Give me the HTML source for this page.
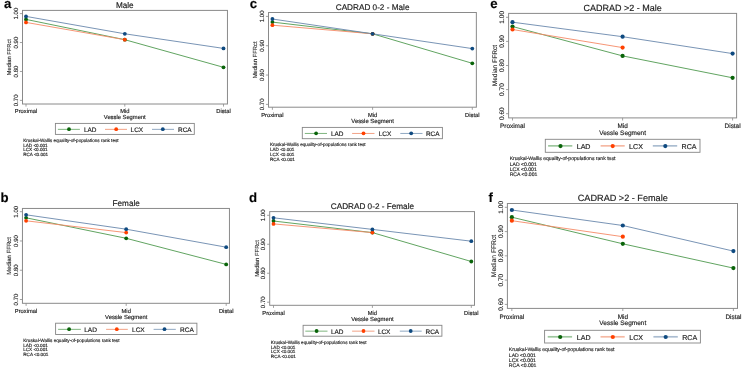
<!DOCTYPE html>
<html><head><meta charset="utf-8"><title>FFRct by vessel segment</title>
<style>
html,body{margin:0;padding:0;background:#fff;}
body{width:742px;height:368px;overflow:hidden;}
svg{display:block;font-family:"Liberation Sans",sans-serif;will-change:transform;}
text{stroke:#222;stroke-width:0.16px;text-rendering:geometricPrecision;}
text.r{stroke-width:0.1px;}
</style></head><body>
<svg width="742" height="368" viewBox="0 0 742 368">
<rect width="742" height="368" fill="#fff"/>
<text x="4" y="7.7" font-size="13.2" font-weight="bold" fill="#000">a</text>
<text x="124.8" y="7.5" font-size="8.2" text-anchor="middle" fill="#222">Male</text>
<rect x="22.5" y="10.4" width="204.95" height="93.6" fill="none" stroke="#8a8a8a" stroke-width="1"/>
<line x1="19.9" y1="13.6" x2="22.5" y2="13.6" stroke="#8a8a8a" stroke-width="0.8"/>
<text transform="translate(18 13.6) rotate(-90)" font-size="6.1" text-anchor="middle" fill="#222" class="r">1.00</text>
<line x1="19.9" y1="42.53" x2="22.5" y2="42.53" stroke="#8a8a8a" stroke-width="0.8"/>
<text transform="translate(18 42.53) rotate(-90)" font-size="6.1" text-anchor="middle" fill="#222" class="r">0.90</text>
<line x1="19.9" y1="71.46" x2="22.5" y2="71.46" stroke="#8a8a8a" stroke-width="0.8"/>
<text transform="translate(18 71.46) rotate(-90)" font-size="6.1" text-anchor="middle" fill="#222" class="r">0.80</text>
<line x1="19.9" y1="100.39" x2="22.5" y2="100.39" stroke="#8a8a8a" stroke-width="0.8"/>
<text transform="translate(18 100.39) rotate(-90)" font-size="6.1" text-anchor="middle" fill="#222" class="r">0.70</text>
<text transform="translate(10.9 57.2) rotate(-90)" font-size="5.75" text-anchor="middle" fill="#222" class="r">Median FFRct</text>
<line x1="26" y1="104" x2="26" y2="106.6" stroke="#8a8a8a" stroke-width="0.8"/>
<text x="26" y="113.2" font-size="5.75" text-anchor="middle" fill="#222">Proximal</text>
<line x1="124.8" y1="104" x2="124.8" y2="106.6" stroke="#8a8a8a" stroke-width="0.8"/>
<text x="124.8" y="113.2" font-size="5.75" text-anchor="middle" fill="#222">Mid</text>
<line x1="223.5" y1="104" x2="223.5" y2="106.6" stroke="#8a8a8a" stroke-width="0.8"/>
<text x="223.5" y="113.2" font-size="5.75" text-anchor="middle" fill="#222">Distal</text>
<text x="124.8" y="119.3" font-size="5.8" text-anchor="middle" fill="#222">Vessle Segment</text>
<polyline points="26,19.4 124.8,39.7 223.5,67.3" fill="none" stroke="#4f9a4f" stroke-width="0.9"/>
<polyline points="26,22.4 124.8,39.7" fill="none" stroke="#f58a66" stroke-width="0.9"/>
<polyline points="26,16.4 124.8,33.8 223.5,48.4" fill="none" stroke="#6a88ad" stroke-width="0.9"/>
<circle cx="26" cy="19.4" r="1.9" fill="#0a640a"/>
<circle cx="124.8" cy="39.7" r="1.9" fill="#0a640a"/>
<circle cx="223.5" cy="67.3" r="1.9" fill="#0a640a"/>
<circle cx="26" cy="22.4" r="1.9" fill="#ff4000"/>
<circle cx="124.8" cy="39.7" r="1.9" fill="#ff4000"/>
<circle cx="26" cy="16.4" r="1.9" fill="#0f4a80"/>
<circle cx="124.8" cy="33.8" r="1.9" fill="#0f4a80"/>
<circle cx="223.5" cy="48.4" r="1.9" fill="#0f4a80"/>
<rect x="55.4" y="123.4" width="138.9" height="11" fill="#fff" stroke="#858585" stroke-width="0.9"/>
<line x1="57.9" y1="129.35" x2="79.9" y2="129.35" stroke="#7fb57f" stroke-width="1"/>
<circle cx="69" cy="129.2" r="1.9" fill="#0a640a"/>
<text x="84" y="131.82" font-size="6.45" fill="#222">LAD</text>
<line x1="105" y1="129.35" x2="127" y2="129.35" stroke="#f2a286" stroke-width="1"/>
<circle cx="116.2" cy="129.2" r="1.9" fill="#ff4000"/>
<text x="130.6" y="131.82" font-size="6.45" fill="#222">LCX</text>
<line x1="152" y1="129.35" x2="174" y2="129.35" stroke="#90a8c2" stroke-width="1"/>
<circle cx="162.8" cy="129.2" r="1.9" fill="#0f4a80"/>
<text x="178" y="131.82" font-size="6.45" fill="#222">RCA</text>
<text x="23.2" y="141.9" font-size="4.6" fill="#333">Kruskal-Wallis equality-of-populations rank test</text>
<text x="23.2" y="146.6" font-size="4.6" fill="#333">LAD &lt;0.001</text>
<text x="23.2" y="151.3" font-size="4.6" fill="#333">LCX &lt;0.001</text>
<text x="23.2" y="156" font-size="4.6" fill="#333">RCA &lt;0.001</text>
<text x="0.4" y="201.7" font-size="13.2" font-weight="bold" fill="#000">b</text>
<text x="126.2" y="205.6" font-size="8.2" text-anchor="middle" fill="#222">Female</text>
<rect x="22.45" y="208.45" width="207" height="94.85" fill="none" stroke="#8a8a8a" stroke-width="1"/>
<line x1="19.85" y1="211.7" x2="22.45" y2="211.7" stroke="#8a8a8a" stroke-width="0.8"/>
<text transform="translate(18 211.7) rotate(-90)" font-size="6.1" text-anchor="middle" fill="#222" class="r">1.00</text>
<line x1="19.85" y1="240.97" x2="22.45" y2="240.97" stroke="#8a8a8a" stroke-width="0.8"/>
<text transform="translate(18 240.97) rotate(-90)" font-size="6.1" text-anchor="middle" fill="#222" class="r">0.90</text>
<line x1="19.85" y1="270.24" x2="22.45" y2="270.24" stroke="#8a8a8a" stroke-width="0.8"/>
<text transform="translate(18 270.24) rotate(-90)" font-size="6.1" text-anchor="middle" fill="#222" class="r">0.80</text>
<line x1="19.85" y1="299.51" x2="22.45" y2="299.51" stroke="#8a8a8a" stroke-width="0.8"/>
<text transform="translate(18 299.51) rotate(-90)" font-size="6.1" text-anchor="middle" fill="#222" class="r">0.70</text>
<text transform="translate(10.8 255.88) rotate(-90)" font-size="6" text-anchor="middle" fill="#222" class="r">Median FFRct</text>
<line x1="26.1" y1="303.3" x2="26.1" y2="305.9" stroke="#8a8a8a" stroke-width="0.8"/>
<text x="26.1" y="312.6" font-size="5.8" text-anchor="middle" fill="#222">Proximal</text>
<line x1="126.2" y1="303.3" x2="126.2" y2="305.9" stroke="#8a8a8a" stroke-width="0.8"/>
<text x="126.2" y="312.6" font-size="5.8" text-anchor="middle" fill="#222">Mid</text>
<line x1="226.2" y1="303.3" x2="226.2" y2="305.9" stroke="#8a8a8a" stroke-width="0.8"/>
<text x="226.2" y="312.6" font-size="5.8" text-anchor="middle" fill="#222">Distal</text>
<text x="126.2" y="319" font-size="5.85" text-anchor="middle" fill="#222">Vessle Segment</text>
<polyline points="26.1,217.8 126.2,238.3 226.2,264.4" fill="none" stroke="#4f9a4f" stroke-width="0.9"/>
<polyline points="26.1,220.8 126.2,232.6" fill="none" stroke="#f58a66" stroke-width="0.9"/>
<polyline points="26.1,214.8 126.2,229.2 226.2,247.2" fill="none" stroke="#6a88ad" stroke-width="0.9"/>
<circle cx="26.1" cy="217.8" r="1.9" fill="#0a640a"/>
<circle cx="126.2" cy="238.3" r="1.9" fill="#0a640a"/>
<circle cx="226.2" cy="264.4" r="1.9" fill="#0a640a"/>
<circle cx="26.1" cy="220.8" r="1.9" fill="#ff4000"/>
<circle cx="126.2" cy="232.6" r="1.9" fill="#ff4000"/>
<circle cx="26.1" cy="214.8" r="1.9" fill="#0f4a80"/>
<circle cx="126.2" cy="229.2" r="1.9" fill="#0f4a80"/>
<circle cx="226.2" cy="247.2" r="1.9" fill="#0f4a80"/>
<rect x="55.6" y="323.2" width="141.3" height="11.3" fill="#fff" stroke="#858585" stroke-width="0.9"/>
<line x1="58.1" y1="329.35" x2="80.9" y2="329.35" stroke="#7fb57f" stroke-width="1"/>
<circle cx="69.1" cy="329.2" r="1.9" fill="#0a640a"/>
<text x="84.2" y="331.86" font-size="6.55" fill="#222">LAD</text>
<line x1="106.1" y1="329.35" x2="127.8" y2="329.35" stroke="#f2a286" stroke-width="1"/>
<circle cx="116.8" cy="329.2" r="1.9" fill="#ff4000"/>
<text x="132" y="331.86" font-size="6.55" fill="#222">LCX</text>
<line x1="153.6" y1="329.35" x2="175.8" y2="329.35" stroke="#90a8c2" stroke-width="1"/>
<circle cx="164.5" cy="329.2" r="1.9" fill="#0f4a80"/>
<text x="180" y="331.86" font-size="6.55" fill="#222">RCA</text>
<text x="23.2" y="342" font-size="4.65" fill="#333">Kruskal-Wallis equality-of-populations rank test</text>
<text x="23.2" y="346.7" font-size="4.65" fill="#333">LAD &lt;0.001</text>
<text x="23.2" y="351.4" font-size="4.65" fill="#333">LCX &lt;0.001</text>
<text x="23.2" y="356.1" font-size="4.65" fill="#333">RCA &lt;0.001</text>
<text x="249.8" y="7.5" font-size="13.2" font-weight="bold" fill="#000">c</text>
<text x="372.6" y="10.2" font-size="8.2" text-anchor="middle" fill="#222">CADRAD 0-2 - Male</text>
<rect x="268.5" y="12.5" width="207.85" height="94.7" fill="none" stroke="#8a8a8a" stroke-width="1"/>
<line x1="265.9" y1="16.4" x2="268.5" y2="16.4" stroke="#8a8a8a" stroke-width="0.8"/>
<text transform="translate(264.1 16.4) rotate(-90)" font-size="6.1" text-anchor="middle" fill="#222" class="r">1.00</text>
<line x1="265.9" y1="45.73" x2="268.5" y2="45.73" stroke="#8a8a8a" stroke-width="0.8"/>
<text transform="translate(264.1 45.73) rotate(-90)" font-size="6.1" text-anchor="middle" fill="#222" class="r">0.90</text>
<line x1="265.9" y1="75.06" x2="268.5" y2="75.06" stroke="#8a8a8a" stroke-width="0.8"/>
<text transform="translate(264.1 75.06) rotate(-90)" font-size="6.1" text-anchor="middle" fill="#222" class="r">0.80</text>
<line x1="265.9" y1="104.39" x2="268.5" y2="104.39" stroke="#8a8a8a" stroke-width="0.8"/>
<text transform="translate(264.1 104.39) rotate(-90)" font-size="6.1" text-anchor="middle" fill="#222" class="r">0.70</text>
<text transform="translate(257 59.85) rotate(-90)" font-size="5.9" text-anchor="middle" fill="#222" class="r">Median FFRct</text>
<line x1="272.4" y1="107.2" x2="272.4" y2="109.8" stroke="#8a8a8a" stroke-width="0.8"/>
<text x="272.4" y="117.3" font-size="5.75" text-anchor="middle" fill="#222">Proximal</text>
<line x1="372.6" y1="107.2" x2="372.6" y2="109.8" stroke="#8a8a8a" stroke-width="0.8"/>
<text x="372.6" y="117.3" font-size="5.75" text-anchor="middle" fill="#222">Mid</text>
<line x1="472.3" y1="107.2" x2="472.3" y2="109.8" stroke="#8a8a8a" stroke-width="0.8"/>
<text x="472.3" y="117.3" font-size="5.75" text-anchor="middle" fill="#222">Distal</text>
<text x="372.6" y="123.4" font-size="5.9" text-anchor="middle" fill="#222">Vessle Segment</text>
<polyline points="272.4,22.1 372.6,33.8 472.3,63.3" fill="none" stroke="#4f9a4f" stroke-width="0.9"/>
<polyline points="272.4,25.2 372.6,33.8" fill="none" stroke="#f58a66" stroke-width="0.9"/>
<polyline points="272.4,19 372.6,33.8 472.3,48.6" fill="none" stroke="#6a88ad" stroke-width="0.9"/>
<circle cx="272.4" cy="22.1" r="1.9" fill="#0a640a"/>
<circle cx="372.6" cy="33.8" r="1.9" fill="#0a640a"/>
<circle cx="472.3" cy="63.3" r="1.9" fill="#0a640a"/>
<circle cx="272.4" cy="25.2" r="1.9" fill="#ff4000"/>
<circle cx="372.6" cy="33.8" r="1.9" fill="#ff4000"/>
<circle cx="272.4" cy="19" r="1.9" fill="#0f4a80"/>
<circle cx="372.6" cy="33.8" r="1.9" fill="#0f4a80"/>
<circle cx="472.3" cy="48.6" r="1.9" fill="#0f4a80"/>
<rect x="302.3" y="127.4" width="140.1" height="11.3" fill="#fff" stroke="#858585" stroke-width="0.9"/>
<line x1="304.8" y1="133.45" x2="327" y2="133.45" stroke="#7fb57f" stroke-width="1"/>
<circle cx="316.1" cy="133.3" r="1.9" fill="#0a640a"/>
<text x="330.9" y="135.92" font-size="6.45" fill="#222">LAD</text>
<line x1="352.1" y1="133.45" x2="374.5" y2="133.45" stroke="#f2a286" stroke-width="1"/>
<circle cx="363.5" cy="133.3" r="1.9" fill="#ff4000"/>
<text x="378.7" y="135.92" font-size="6.45" fill="#222">LCX</text>
<line x1="400.3" y1="133.45" x2="422.5" y2="133.45" stroke="#90a8c2" stroke-width="1"/>
<circle cx="411.2" cy="133.3" r="1.9" fill="#0f4a80"/>
<text x="425.9" y="135.92" font-size="6.45" fill="#222">RCA</text>
<text x="269.9" y="146.2" font-size="4.62" fill="#333">Kruskal-Wallis equality-of-populations rank test</text>
<text x="269.9" y="151.05" font-size="4.62" fill="#333">LAD &lt;0.001</text>
<text x="269.9" y="155.9" font-size="4.62" fill="#333">LCX &lt;0.001</text>
<text x="269.9" y="160.75" font-size="4.62" fill="#333">RCA &lt;0.001</text>
<text x="248.9" y="201.7" font-size="13.2" font-weight="bold" fill="#000">d</text>
<text x="372.4" y="209" font-size="8.2" text-anchor="middle" fill="#222">CADRAD 0-2 - Female</text>
<rect x="269.7" y="211.6" width="204.8" height="93.7" fill="none" stroke="#8a8a8a" stroke-width="1"/>
<line x1="267.1" y1="215.3" x2="269.7" y2="215.3" stroke="#8a8a8a" stroke-width="0.8"/>
<text transform="translate(265.2 215.3) rotate(-90)" font-size="6.1" text-anchor="middle" fill="#222" class="r">1.00</text>
<line x1="267.1" y1="244.27" x2="269.7" y2="244.27" stroke="#8a8a8a" stroke-width="0.8"/>
<text transform="translate(265.2 244.27) rotate(-90)" font-size="6.1" text-anchor="middle" fill="#222" class="r">0.90</text>
<line x1="267.1" y1="273.24" x2="269.7" y2="273.24" stroke="#8a8a8a" stroke-width="0.8"/>
<text transform="translate(265.2 273.24) rotate(-90)" font-size="6.1" text-anchor="middle" fill="#222" class="r">0.80</text>
<line x1="267.1" y1="302.21" x2="269.7" y2="302.21" stroke="#8a8a8a" stroke-width="0.8"/>
<text transform="translate(265.2 302.21) rotate(-90)" font-size="6.1" text-anchor="middle" fill="#222" class="r">0.70</text>
<text transform="translate(258.5 258.45) rotate(-90)" font-size="5.85" text-anchor="middle" fill="#222" class="r">Median FFRct</text>
<line x1="273.5" y1="305.3" x2="273.5" y2="307.9" stroke="#8a8a8a" stroke-width="0.8"/>
<text x="273.5" y="315.1" font-size="5.75" text-anchor="middle" fill="#222">Proximal</text>
<line x1="372.4" y1="305.3" x2="372.4" y2="307.9" stroke="#8a8a8a" stroke-width="0.8"/>
<text x="372.4" y="315.1" font-size="5.75" text-anchor="middle" fill="#222">Mid</text>
<line x1="471.3" y1="305.3" x2="471.3" y2="307.9" stroke="#8a8a8a" stroke-width="0.8"/>
<text x="471.3" y="315.1" font-size="5.75" text-anchor="middle" fill="#222">Distal</text>
<text x="372.4" y="320.9" font-size="5.85" text-anchor="middle" fill="#222">Vessle Segment</text>
<polyline points="273.5,221 372.4,232.6 471.3,261.5" fill="none" stroke="#4f9a4f" stroke-width="0.9"/>
<polyline points="273.5,223.9 372.4,232.6" fill="none" stroke="#f58a66" stroke-width="0.9"/>
<polyline points="273.5,217.8 372.4,229.4 471.3,241.2" fill="none" stroke="#6a88ad" stroke-width="0.9"/>
<circle cx="273.5" cy="221" r="1.9" fill="#0a640a"/>
<circle cx="372.4" cy="232.6" r="1.9" fill="#0a640a"/>
<circle cx="471.3" cy="261.5" r="1.9" fill="#0a640a"/>
<circle cx="273.5" cy="223.9" r="1.9" fill="#ff4000"/>
<circle cx="372.4" cy="232.6" r="1.9" fill="#ff4000"/>
<circle cx="273.5" cy="217.8" r="1.9" fill="#0f4a80"/>
<circle cx="372.4" cy="229.4" r="1.9" fill="#0f4a80"/>
<circle cx="471.3" cy="241.2" r="1.9" fill="#0f4a80"/>
<rect x="303.1" y="325.3" width="138.8" height="10.9" fill="#fff" stroke="#858585" stroke-width="0.9"/>
<line x1="305.3" y1="331.15" x2="327.5" y2="331.15" stroke="#7fb57f" stroke-width="1"/>
<circle cx="316.6" cy="331" r="1.9" fill="#0a640a"/>
<text x="330.9" y="333.62" font-size="6.45" fill="#222">LAD</text>
<line x1="352.1" y1="331.15" x2="374.5" y2="331.15" stroke="#f2a286" stroke-width="1"/>
<circle cx="363.5" cy="331" r="1.9" fill="#ff4000"/>
<text x="377.9" y="333.62" font-size="6.45" fill="#222">LCX</text>
<line x1="399.8" y1="331.15" x2="421.7" y2="331.15" stroke="#90a8c2" stroke-width="1"/>
<circle cx="410.7" cy="331" r="1.9" fill="#0f4a80"/>
<text x="425.5" y="333.62" font-size="6.45" fill="#222">RCA</text>
<text x="270.8" y="343.7" font-size="4.62" fill="#333">Kruskal-Wallis equality-of-populations rank test</text>
<text x="270.8" y="348.5" font-size="4.62" fill="#333">LAD &lt;0.001</text>
<text x="270.8" y="353.3" font-size="4.62" fill="#333">LCX &lt;0.001</text>
<text x="270.8" y="358.1" font-size="4.62" fill="#333">RCA &lt;0.001</text>
<text x="490.2" y="7.9" font-size="13.2" font-weight="bold" fill="#000">e</text>
<text x="622.6" y="10.6" font-size="9" text-anchor="middle" fill="#222">CADRAD >2 - Male</text>
<rect x="508.6" y="13.4" width="228" height="104.5" fill="none" stroke="#8a8a8a" stroke-width="1"/>
<line x1="506" y1="17.3" x2="508.6" y2="17.3" stroke="#8a8a8a" stroke-width="0.8"/>
<text transform="translate(504 17.3) rotate(-90)" font-size="6.6" text-anchor="middle" fill="#222" class="r">1.00</text>
<line x1="506" y1="41.4" x2="508.6" y2="41.4" stroke="#8a8a8a" stroke-width="0.8"/>
<text transform="translate(504 41.4) rotate(-90)" font-size="6.6" text-anchor="middle" fill="#222" class="r">0.90</text>
<line x1="506" y1="65.5" x2="508.6" y2="65.5" stroke="#8a8a8a" stroke-width="0.8"/>
<text transform="translate(504 65.5) rotate(-90)" font-size="6.6" text-anchor="middle" fill="#222" class="r">0.80</text>
<line x1="506" y1="89.6" x2="508.6" y2="89.6" stroke="#8a8a8a" stroke-width="0.8"/>
<text transform="translate(504 89.6) rotate(-90)" font-size="6.6" text-anchor="middle" fill="#222" class="r">0.70</text>
<line x1="506" y1="113.7" x2="508.6" y2="113.7" stroke="#8a8a8a" stroke-width="0.8"/>
<text transform="translate(504 113.7) rotate(-90)" font-size="6.6" text-anchor="middle" fill="#222" class="r">0.60</text>
<text transform="translate(496.6 65.65) rotate(-90)" font-size="6.6" text-anchor="middle" fill="#222" class="r">Median FFRct</text>
<line x1="512.5" y1="117.9" x2="512.5" y2="120.5" stroke="#8a8a8a" stroke-width="0.8"/>
<text x="512.5" y="127.9" font-size="6.4" text-anchor="middle" fill="#222">Proximal</text>
<line x1="622.6" y1="117.9" x2="622.6" y2="120.5" stroke="#8a8a8a" stroke-width="0.8"/>
<text x="622.6" y="127.9" font-size="6.4" text-anchor="middle" fill="#222">Mid</text>
<line x1="732.6" y1="117.9" x2="732.6" y2="120.5" stroke="#8a8a8a" stroke-width="0.8"/>
<text x="732.6" y="127.9" font-size="6.4" text-anchor="middle" fill="#222">Distal</text>
<text x="622.6" y="135.1" font-size="6.47" text-anchor="middle" fill="#222">Vessle Segment</text>
<polyline points="512.5,26.5 622.6,55.9 732.6,77.8" fill="none" stroke="#4f9a4f" stroke-width="0.9"/>
<polyline points="512.5,29.5 622.6,47.6" fill="none" stroke="#f58a66" stroke-width="0.9"/>
<polyline points="512.5,22.2 622.6,36.7 732.6,53.6" fill="none" stroke="#6a88ad" stroke-width="0.9"/>
<circle cx="512.5" cy="26.5" r="2.1" fill="#0a640a"/>
<circle cx="622.6" cy="55.9" r="2.1" fill="#0a640a"/>
<circle cx="732.6" cy="77.8" r="2.1" fill="#0a640a"/>
<circle cx="512.5" cy="29.5" r="2.1" fill="#ff4000"/>
<circle cx="622.6" cy="47.6" r="2.1" fill="#ff4000"/>
<circle cx="512.5" cy="22.2" r="2.1" fill="#0f4a80"/>
<circle cx="622.6" cy="36.7" r="2.1" fill="#0f4a80"/>
<circle cx="732.6" cy="53.6" r="2.1" fill="#0f4a80"/>
<rect x="545.3" y="139.3" width="154.7" height="13" fill="#fff" stroke="#858585" stroke-width="0.9"/>
<line x1="548.1" y1="145.85" x2="572.3" y2="145.85" stroke="#7fb57f" stroke-width="1.7" opacity="0.75"/>
<circle cx="560.5" cy="146.1" r="2.1" fill="#0a640a"/>
<text x="576.7" y="148.96" font-size="7.1" fill="#222">LAD</text>
<line x1="600.6" y1="145.85" x2="624.7" y2="145.85" stroke="#f2a286" stroke-width="1.7" opacity="0.75"/>
<circle cx="612.7" cy="146.1" r="2.1" fill="#ff4000"/>
<text x="629.1" y="148.96" font-size="7.1" fill="#222">LCX</text>
<line x1="652.8" y1="145.85" x2="677.2" y2="145.85" stroke="#90a8c2" stroke-width="1.7" opacity="0.75"/>
<circle cx="665.3" cy="146.1" r="2.1" fill="#0f4a80"/>
<text x="681.6" y="148.96" font-size="7.1" fill="#222">RCA</text>
<text x="509.7" y="160.2" font-size="5.1" fill="#333">Kruskal-Wallis equality-of-populations rank test</text>
<text x="509.7" y="165.5" font-size="5.1" fill="#333">LAD &lt;0.001</text>
<text x="509.7" y="170.8" font-size="5.1" fill="#333">LCX &lt;0.001</text>
<text x="509.7" y="176.1" font-size="5.1" fill="#333">RCA &lt;0.001</text>
<text x="488.6" y="201.8" font-size="13.2" font-weight="bold" fill="#000">f</text>
<text x="622.8" y="200.8" font-size="9.15" text-anchor="middle" fill="#222">CADRAD >2 - Female</text>
<rect x="507.4" y="203.5" width="230.1" height="104.9" fill="none" stroke="#8a8a8a" stroke-width="1"/>
<line x1="504.8" y1="207.3" x2="507.4" y2="207.3" stroke="#8a8a8a" stroke-width="0.8"/>
<text transform="translate(502.8 207.3) rotate(-90)" font-size="6.6" text-anchor="middle" fill="#222" class="r">1.00</text>
<line x1="504.8" y1="231.58" x2="507.4" y2="231.58" stroke="#8a8a8a" stroke-width="0.8"/>
<text transform="translate(502.8 231.58) rotate(-90)" font-size="6.6" text-anchor="middle" fill="#222" class="r">0.90</text>
<line x1="504.8" y1="255.85" x2="507.4" y2="255.85" stroke="#8a8a8a" stroke-width="0.8"/>
<text transform="translate(502.8 255.85) rotate(-90)" font-size="6.6" text-anchor="middle" fill="#222" class="r">0.80</text>
<line x1="504.8" y1="280.12" x2="507.4" y2="280.12" stroke="#8a8a8a" stroke-width="0.8"/>
<text transform="translate(502.8 280.12) rotate(-90)" font-size="6.6" text-anchor="middle" fill="#222" class="r">0.70</text>
<line x1="504.8" y1="304.4" x2="507.4" y2="304.4" stroke="#8a8a8a" stroke-width="0.8"/>
<text transform="translate(502.8 304.4) rotate(-90)" font-size="6.6" text-anchor="middle" fill="#222" class="r">0.60</text>
<text transform="translate(495.8 255.95) rotate(-90)" font-size="6.75" text-anchor="middle" fill="#222" class="r">Median FFRct</text>
<line x1="511.85" y1="308.4" x2="511.85" y2="311" stroke="#8a8a8a" stroke-width="0.8"/>
<text x="511.85" y="318.8" font-size="6.4" text-anchor="middle" fill="#222">Proximal</text>
<line x1="622.8" y1="308.4" x2="622.8" y2="311" stroke="#8a8a8a" stroke-width="0.8"/>
<text x="622.8" y="318.8" font-size="6.4" text-anchor="middle" fill="#222">Mid</text>
<line x1="733.4" y1="308.4" x2="733.4" y2="311" stroke="#8a8a8a" stroke-width="0.8"/>
<text x="733.4" y="318.8" font-size="6.4" text-anchor="middle" fill="#222">Distal</text>
<text x="622.8" y="325.4" font-size="6.5" text-anchor="middle" fill="#222">Vessle Segment</text>
<polyline points="511.85,217.2 622.8,243.8 733.4,268.1" fill="none" stroke="#4f9a4f" stroke-width="0.9"/>
<polyline points="511.85,220.7 622.8,236.7" fill="none" stroke="#f58a66" stroke-width="0.9"/>
<polyline points="511.85,210 622.8,225.5 733.4,251.1" fill="none" stroke="#6a88ad" stroke-width="0.9"/>
<circle cx="511.85" cy="217.2" r="2.1" fill="#0a640a"/>
<circle cx="622.8" cy="243.8" r="2.1" fill="#0a640a"/>
<circle cx="733.4" cy="268.1" r="2.1" fill="#0a640a"/>
<circle cx="511.85" cy="220.7" r="2.1" fill="#ff4000"/>
<circle cx="622.8" cy="236.7" r="2.1" fill="#ff4000"/>
<circle cx="511.85" cy="210" r="2.1" fill="#0f4a80"/>
<circle cx="622.8" cy="225.5" r="2.1" fill="#0f4a80"/>
<circle cx="733.4" cy="251.1" r="2.1" fill="#0f4a80"/>
<rect x="544.6" y="330.3" width="155.8" height="12.7" fill="#fff" stroke="#858585" stroke-width="0.9"/>
<line x1="547.7" y1="336.8" x2="572.1" y2="336.8" stroke="#7fb57f" stroke-width="1.7" opacity="0.75"/>
<circle cx="560.2" cy="337" r="2.1" fill="#0a640a"/>
<text x="576.8" y="339.86" font-size="7.1" fill="#222">LAD</text>
<line x1="600.5" y1="336.8" x2="624.7" y2="336.8" stroke="#f2a286" stroke-width="1.7" opacity="0.75"/>
<circle cx="612.8" cy="337" r="2.1" fill="#ff4000"/>
<text x="629.3" y="339.86" font-size="7.1" fill="#222">LCX</text>
<line x1="653.4" y1="336.8" x2="677.8" y2="336.8" stroke="#90a8c2" stroke-width="1.7" opacity="0.75"/>
<circle cx="665.7" cy="337" r="2.1" fill="#0f4a80"/>
<text x="682.2" y="339.86" font-size="7.1" fill="#222">RCA</text>
<text x="508.8" y="351.2" font-size="5.1" fill="#333">Kruskal-Wallis equality-of-populations rank test</text>
<text x="508.8" y="356.5" font-size="5.1" fill="#333">LAD &lt;0.001</text>
<text x="508.8" y="361.8" font-size="5.1" fill="#333">LCX &lt;0.001</text>
<text x="508.8" y="367.1" font-size="5.1" fill="#333">RCA &lt;0.001</text>
</svg>
</body></html>
